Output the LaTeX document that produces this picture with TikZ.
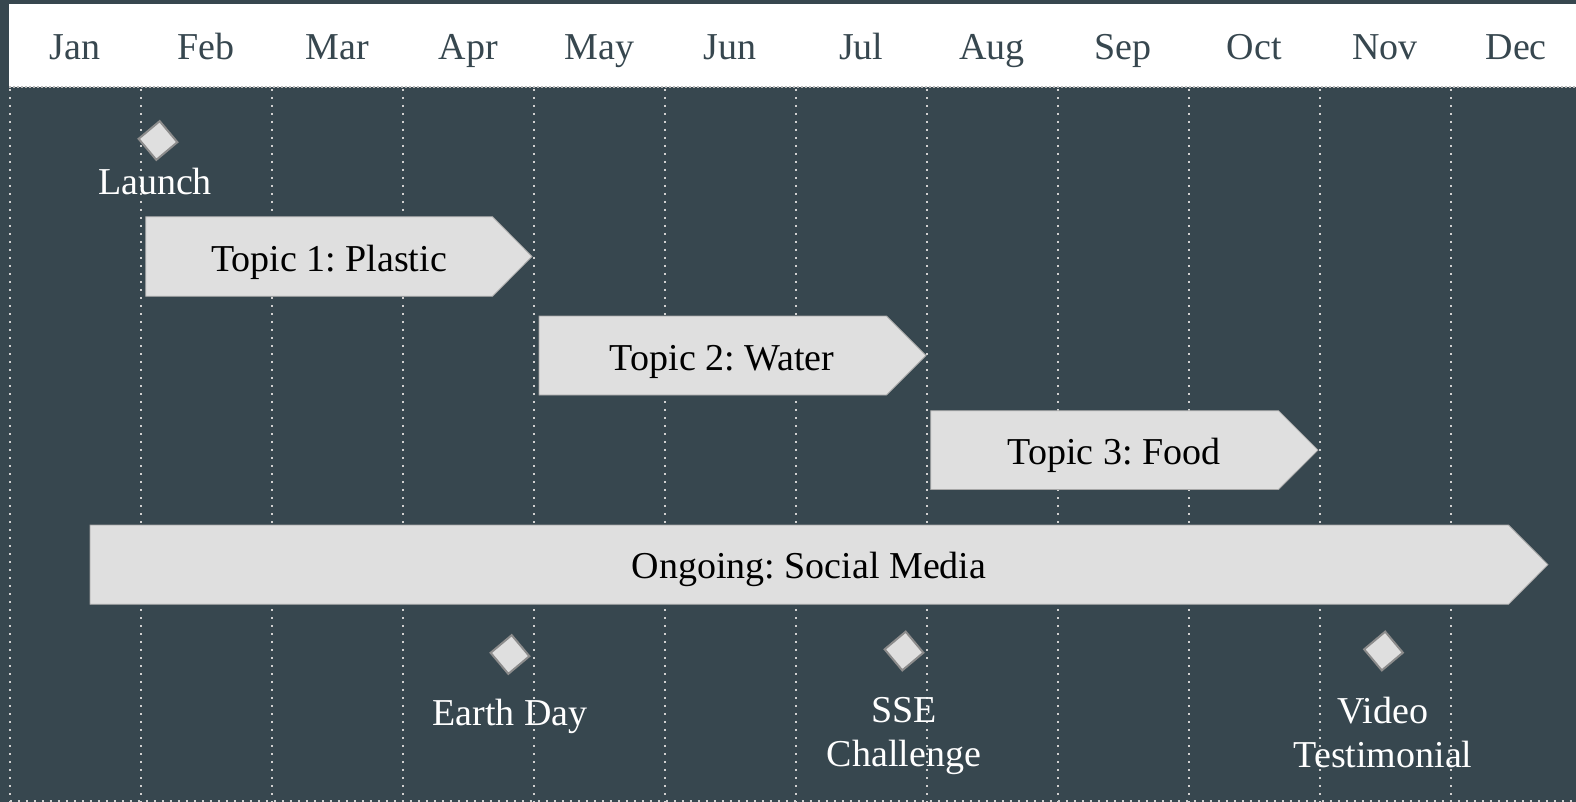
\documentclass[tikz,border=0pt]{standalone}
\usepackage{fontspec}
\setmainfont{Liberation Serif}
\frenchspacing
\definecolor{slate}{HTML}{37474F}
\definecolor{barfill}{HTML}{DFDFDF}
\definecolor{baredge}{HTML}{A6A6A6}
\definecolor{dotcol}{HTML}{D0D0D0}
\definecolor{markedge}{HTML}{8C8C8C}
\tikzset{
  big/.style={font=\fontsize{38}{44}\selectfont\frenchspacing, inner sep=0pt},
  month/.style={big, text=slate, anchor=base},
  bartext/.style={big, text=black, anchor=base},
  mstext/.style={big, text=white, anchor=base},
  mslabel/.style={big, text=white, align=center, anchor=north},
  gridline/.style={draw=dotcol, line width=2pt, dash pattern=on 2pt off 6pt},
  headline/.style={draw=gray!55, line width=1.5pt, dash pattern=on 2pt off 2pt},
  barshape/.style={fill=barfill, draw=baredge, line width=0.8pt},
  msmark/.style={rectangle, minimum size=27.5pt, inner sep=0pt, rotate=40,
                 fill=barfill, draw=markedge, line width=2pt},
}
\begin{document}
\begin{tikzpicture}[x=1pt, y=-1pt]
\useasboundingbox (0,0) rectangle (1576,802);
\fill[slate] (0,0) rectangle (1576,802);
% header
\fill[white] (9,4) rectangle (1576,87);
\draw[headline] (9,87) -- (1576,87);
\foreach \m [count=\i from 0] in {Jan,Feb,Mar,Apr,May,Jun,Jul,Aug,Sep,Oct,Nov,Dec}
  \node[month] (mon\i) at ({75.2+131*\i},59.3) {\m};
% grid
\foreach \i in {0,...,11}
  \draw[gridline] ({9.7+131*\i},89) -- ({9.7+131*\i},802);
\draw[gridline] (9.7,801) -- (1576,801);
% bars
\draw[barshape] (145.7,216.7) -- (492.5,216.7) -- (532,256.5) -- (492.5,296.3) -- (145.7,296.3) -- cycle;
\draw[barshape] (539,316) -- (886.5,316) -- (926,355.5) -- (886.5,395) -- (539,395) -- cycle;
\draw[barshape] (930.7,410.7) -- (1278.5,410.7) -- (1318,450.1) -- (1278.5,489.5) -- (930.7,489.5) -- cycle;
\draw[barshape] (90,525) -- (1508.5,525) -- (1548,564.6) -- (1508.5,604.3) -- (90,604.3) -- cycle;
\node[bartext] (t1) at (329,271.7) {Topic 1: Plastic};
\node[bartext] (t2) at (722,370) {Topic 2: Water};
\node[bartext] (t3) at (1114,464.5) {Topic 3: Food};
\node[bartext] (t4) at (809,578) {Ongoing: Social Media};
% milestones
\node[msmark] (m1) at (158,140.5) {};
\node[mstext] (l1) at (155,195) {Launch};
\node[msmark] (m2) at (510,654.5) {};
\node[mstext] (l2) at (510,725) {Earth Day};
\node[msmark] (m3) at (904,651) {};
\node[mslabel] (l3) at (904,697.5) {SSE\\Challenge};
\node[msmark] (m4) at (1383.5,651) {};
\node[mslabel] (l4) at (1383,697) {Video\\Testimonial};
\end{tikzpicture}
\end{document}
